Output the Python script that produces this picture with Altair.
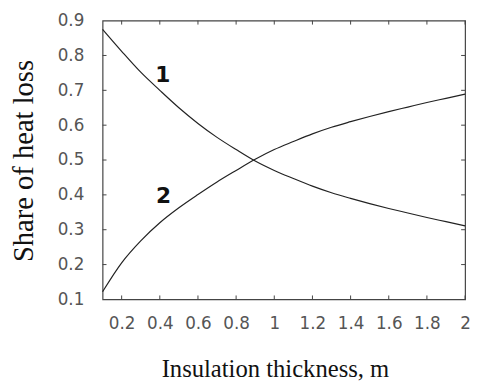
import altair as alt
import pandas as pd

# Insulation thickness, m
thickness = [0.1, 0.2, 0.3, 0.4, 0.5, 0.6, 0.7, 0.8, 0.9, 1.0,
             1.1, 1.2, 1.3, 1.4, 1.5, 1.6, 1.7, 1.8, 1.9, 2.0]
# Curve 1 (decreasing share)
share_1 = [0.875, 0.812, 0.752, 0.700, 0.650, 0.605, 0.565, 0.530, 0.497, 0.470,
           0.447, 0.425, 0.406, 0.390, 0.375, 0.361, 0.348, 0.335, 0.323, 0.311]
# Curve 2 (increasing share)
share_2 = [0.122, 0.205, 0.268, 0.320, 0.363, 0.401, 0.437, 0.470, 0.502, 0.530,
           0.553, 0.575, 0.594, 0.610, 0.625, 0.639, 0.652, 0.665, 0.677, 0.689]

x_ticks = [0.2, 0.4, 0.6, 0.8, 1.0, 1.2, 1.4, 1.6, 1.8, 2.0]
y_ticks = [0.1, 0.2, 0.3, 0.4, 0.5, 0.6, 0.7, 0.8, 0.9]

curve_labels = ["1", "2"]
label_x = [0.415, 0.42]
label_y = [0.745, 0.396]

W, H = 368, 283
AXIS_C = "#444444"

rows = []
for t, a, b in zip(thickness, share_1, share_2):
    rows.append({"t": t, "share": a, "curve": "1"})
    rows.append({"t": t, "share": b, "curve": "2"})
df = pd.DataFrame(rows)

xs = alt.Scale(domain=[0.1, 2.0], nice=False, zero=False)
ys = alt.Scale(domain=[0.1, 0.9], nice=False, zero=False)

x_axis = alt.Axis(
    values=x_ticks, format="~g", ticks=False, tickSize=0, domain=False, grid=False,
    labelFont="DejaVu Sans", labelFontSize=17, labelColor="#555555", labelPadding=17,
    labelOverlap=False, labelFlush=False, labelBound=False,
    titleFont="Liberation Serif", titleFontSize=25,
    titleFontWeight="normal", titleColor="#111111", titleX=175, titleY=78,
    titleAlign="center", titleBaseline="alphabetic",
)
y_axis = alt.Axis(
    values=y_ticks, format="~g", ticks=False, tickSize=0, domain=False, grid=False,
    labelFont="DejaVu Sans", labelFontSize=17, labelColor="#555555", labelPadding=19,
    labelOverlap=False, labelFlush=False, labelBound=False,
    titleFont="Liberation Serif", titleFontSize=29,
    titleFontWeight="normal", titleColor="#111111", titleX=-71, titleY=142,
    titleAlign="center", titleBaseline="alphabetic", titleAngle=270,
)
X_TITLE = "Insulation thickness, m"
Y_TITLE = "Share of heat loss"


def xenc(field):
    return alt.X(field, scale=xs, axis=x_axis, title=X_TITLE)


def yenc(field):
    return alt.Y(field, scale=ys, axis=y_axis, title=Y_TITLE)


lines = alt.Chart(df).mark_line(color="#222222", strokeWidth=1.2,
                                interpolate="monotone").encode(
    x=xenc("t:Q"), y=yenc("share:Q"), detail="curve:N",
)

xt = pd.DataFrame({"v": x_ticks})
yt = pd.DataFrame({"v": [v for v in y_ticks if 0.1 < v < 0.9]})

tick_b = alt.Chart(xt).mark_rule(color=AXIS_C, strokeWidth=1).encode(
    x=xenc("v:Q"), y=alt.value(H), y2=alt.value(H - 4))
tick_t = alt.Chart(xt).mark_rule(color=AXIS_C, strokeWidth=1).encode(
    x=xenc("v:Q"), y=alt.value(0), y2=alt.value(4))
tick_l = alt.Chart(yt).mark_rule(color=AXIS_C, strokeWidth=1).encode(
    y=yenc("v:Q"), x=alt.value(0), x2=alt.value(4))
tick_r = alt.Chart(yt).mark_rule(color=AXIS_C, strokeWidth=1).encode(
    y=yenc("v:Q"), x=alt.value(W), x2=alt.value(W - 4))

lab = pd.DataFrame({"txt": curve_labels, "x": label_x, "y": label_y})
texts = alt.Chart(lab).mark_text(
    font="DejaVu Sans", fontWeight="bold", fontSize=22, color="#111111",
    align="center", baseline="middle",
).encode(x=xenc("x:Q"), y=yenc("y:Q"), text="txt:N")

chart = alt.layer(lines, tick_b, tick_t, tick_l, tick_r, texts).properties(
    width=W, height=H,
    autosize=alt.AutoSizeParams(type="none"),
    padding={"left": 96, "top": 10, "right": 5, "bottom": 80},
    background="white",
).configure_view(stroke=AXIS_C, strokeWidth=1.2)

chart.save("out.html", embed_options={"renderer": "svg", "actions": False})
